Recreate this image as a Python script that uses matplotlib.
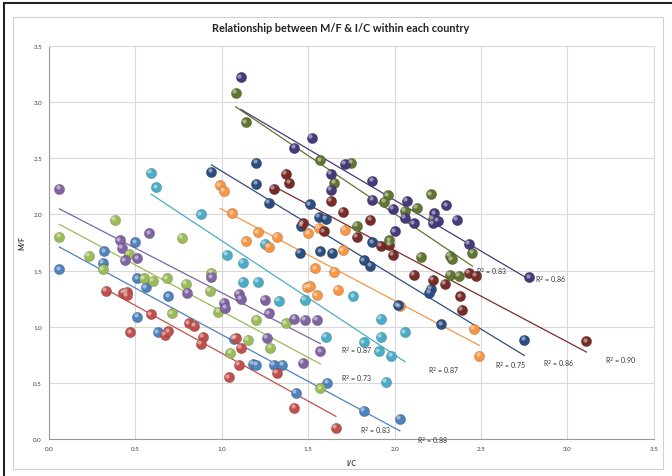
import numpy as np
import matplotlib
matplotlib.use('Agg')
import matplotlib.pyplot as plt
from matplotlib.transforms import ScaledTranslation

plt.rcParams['font.family'] = ['Lato', 'DejaVu Sans']

# I/C (x) and M/F (y) per country
blue_x = [0.06, 0.32, 0.31, 0.50, 0.51, 0.56, 0.51, 0.63, 0.69, 1.07, 1.18, 1.20, 1.30, 1.35, 1.61, 1.43, 1.82, 2.03]
blue_y = [1.51, 1.67, 1.57, 1.75, 1.43, 1.35, 1.09, 0.95, 1.27, 0.89, 0.67, 0.66, 0.66, 0.66, 0.50, 0.41, 0.25, 0.18]

red_x = [0.33, 0.43, 0.45, 0.45, 0.47, 0.59, 0.67, 0.69, 0.81, 0.84, 0.89, 0.88, 1.08, 1.11, 1.10, 1.04, 1.32, 1.42, 1.66]
red_y = [1.32, 1.30, 1.31, 1.28, 0.95, 1.11, 0.93, 0.96, 1.03, 1.01, 0.91, 0.85, 0.90, 0.81, 0.66, 0.55, 0.59, 0.28, 0.10]

green_x = [0.06, 0.23, 0.38, 0.31, 0.46, 0.55, 0.60, 0.68, 0.71, 0.77, 0.79, 0.94, 0.93, 0.98, 1.05, 1.15, 1.20, 1.37, 1.28, 1.57]
green_y = [1.80, 1.63, 1.95, 1.51, 1.65, 1.43, 1.41, 1.43, 1.12, 1.79, 1.38, 1.48, 1.32, 1.13, 0.77, 0.88, 1.06, 1.03, 0.81, 0.45]

purple_x = [0.06, 0.41, 0.42, 0.44, 0.58, 0.51, 0.80, 0.94, 1.01, 1.02, 1.10, 1.11, 1.25, 1.27, 1.42, 1.48, 1.55, 1.26, 1.57, 1.47]
purple_y = [2.23, 1.77, 1.70, 1.59, 1.83, 1.61, 1.30, 1.44, 1.21, 1.17, 1.29, 1.25, 1.24, 1.12, 1.07, 1.06, 1.06, 0.90, 0.78, 0.68]

aqua_x = [0.59, 0.62, 0.88, 1.03, 1.12, 1.12, 1.21, 1.25, 1.33, 1.48, 1.76, 1.92, 1.60, 1.82, 1.92, 2.06, 1.91, 1.98, 1.95]
aqua_y = [2.37, 2.24, 2.00, 1.64, 1.57, 1.40, 1.40, 1.74, 1.23, 1.24, 1.27, 1.07, 0.91, 0.86, 0.91, 0.95, 0.78, 0.74, 0.51]

orange_x = [0.99, 1.01, 1.06, 1.14, 1.21, 1.32, 1.27, 1.50, 1.56, 1.71, 1.70, 1.54, 1.65, 1.49, 1.51, 1.55, 1.67, 2.03, 2.46, 2.49]
orange_y = [2.26, 2.21, 2.01, 1.76, 1.84, 1.80, 1.71, 1.83, 1.88, 1.86, 1.68, 1.52, 1.49, 1.35, 1.36, 1.28, 1.33, 1.18, 0.98, 0.74]

navy_x = [0.94, 1.20, 1.20, 1.27, 1.51, 1.46, 1.56, 1.60, 1.87, 1.45, 1.57, 1.64, 1.82, 1.86, 2.21, 2.20, 2.02, 2.27, 2.75]
navy_y = [2.38, 2.46, 2.27, 2.10, 2.09, 1.90, 1.98, 1.96, 1.75, 1.66, 1.67, 1.66, 1.59, 1.54, 1.34, 1.30, 1.19, 1.02, 0.88]

maroon_x = [1.37, 1.39, 1.30, 1.63, 1.70, 1.47, 1.59, 1.86, 1.78, 1.92, 1.97, 1.99, 2.11, 2.43, 2.47, 2.22, 2.29, 2.38, 2.39, 3.11]
maroon_y = [2.36, 2.28, 2.23, 2.12, 2.02, 1.92, 1.85, 1.95, 1.80, 1.72, 1.73, 1.64, 1.46, 1.48, 1.45, 1.42, 1.38, 1.27, 1.15, 0.87]

olive_x = [1.08, 1.14, 1.57, 1.75, 1.65, 1.96, 1.94, 2.06, 2.13, 2.21, 2.22, 1.78, 1.97, 2.15, 2.32, 2.33, 2.45, 2.32, 2.37]
olive_y = [3.08, 2.82, 2.48, 2.46, 2.28, 2.17, 2.11, 2.03, 2.06, 2.18, 1.96, 1.90, 1.77, 1.62, 1.63, 1.60, 1.66, 1.46, 1.45]

dpurple_x = [1.11, 1.52, 1.42, 1.71, 1.63, 1.63, 1.87, 1.87, 1.99, 2.07, 2.06, 2.11, 2.00, 2.30, 2.23, 2.25, 2.22, 2.36, 2.43, 2.78]
dpurple_y = [3.22, 2.68, 2.59, 2.45, 2.36, 2.22, 2.30, 2.13, 2.05, 2.12, 1.97, 1.92, 1.85, 2.08, 2.01, 1.94, 1.92, 1.95, 1.74, 1.44]

# R² labels and where they sit on the chart
r2_labels = ['0.83', '0.88', '0.73', '0.87', '0.87', '0.75', '0.86', '0.90', '0.83', '0.86']
r2_x = [1.89, 2.22, 1.78, 1.78, 2.28, 2.67, 2.95, 3.31, 2.56, 2.90]
r2_y = [0.08, -0.01, 0.54, 0.79, 0.61, 0.66, 0.67, 0.70, 1.49, 1.42]

series = [
    (blue_x, blue_y, '#4F81BD'),
    (red_x, red_y, '#C0504D'),
    (green_x, green_y, '#9BBB59'),
    (purple_x, purple_y, '#8064A2'),
    (aqua_x, aqua_y, '#4BACC6'),
    (orange_x, orange_y, '#F79646'),
    (navy_x, navy_y, '#2C4D80'),
    (maroon_x, maroon_y, '#772C2A'),
    (olive_x, olive_y, '#5F7530'),
    (dpurple_x, dpurple_y, '#463A7A'),
]

fig = plt.figure(figsize=(6.72, 4.77), dpi=100)
ax = fig.add_axes([0.073, 0.0776, 0.900, 0.824])

# small offset for the glossy highlight on each ball
shine = ax.transData + ScaledTranslation(-1.2 / 72, 1.2 / 72, fig.dpi_scale_trans)

for x, y, c in series:
    x = np.array(x)
    y = np.array(y)
    ax.scatter(x, y, s=56, color=c, edgecolors='#00000030', linewidths=0.5, zorder=3)
    ax.scatter(x, y, s=9, color='white', alpha=0.45, linewidths=0, zorder=4, transform=shine)
    # linear trendline across the series' own range
    slope, intercept = np.polyfit(x, y, 1)
    xs = np.array([x.min(), x.max()])
    ax.plot(xs, intercept + slope * xs, color=c, lw=0.9, zorder=2)

for lab, tx, ty in zip(r2_labels, r2_x, r2_y):
    ax.text(tx, ty, 'R$^2$ = ' + lab, fontsize=5, color='#333333', ha='center', va='center',
            clip_on=False, zorder=5)

ax.set_xlim(0, 3.5)
ax.set_ylim(0, 3.5)
ticks = np.arange(0, 3.51, 0.5)
ax.set_xticks(ticks)
ax.set_yticks(ticks)
ax.set_xticklabels(['%.1f' % t for t in ticks])
ax.set_yticklabels(['%.1f' % t for t in ticks])
ax.tick_params(labelsize=4.5, length=0, pad=5, colors='#444444')
ax.grid(True, color='#d9d9d9', lw=0.8)
ax.set_axisbelow(True)
for s in ax.spines.values():
    s.set_color('#d9d9d9')
    s.set_linewidth(0.8)
ax.spines['left'].set_color('#999999')
ax.spines['bottom'].set_color('#999999')

ax.set_xlabel('I/C', fontsize=5, fontweight='bold', color='#333333', labelpad=6)
ax.set_ylabel('M/F', fontsize=5, fontweight='bold', color='#333333', labelpad=6)
fig.text(0.507, 0.941, 'Relationship between M/F & I/C within each country',
         fontsize=7.8, fontweight='bold', ha='center', va='center', color='#222222')

# chart frame and the dark window edge of the screenshot
fig.add_artist(plt.Rectangle((0.02, 0.015), 0.967, 0.948, transform=fig.transFigure,
                             fill=False, ec='#d0d0d0', lw=0.8))
fig.add_artist(plt.Line2D([0.006, 0.006], [0, 0.992], transform=fig.transFigure, color='#222222', lw=1.5))
fig.add_artist(plt.Line2D([0.006, 1], [0.992, 0.992], transform=fig.transFigure, color='#222222', lw=1.5))

plt.savefig('out.png', dpi=100)
